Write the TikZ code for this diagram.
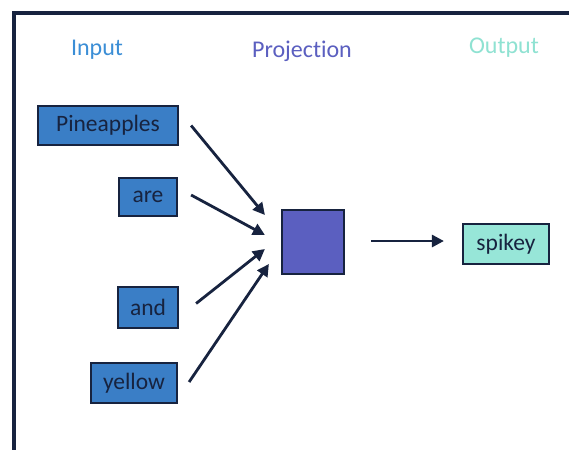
\documentclass[tikz,border=0pt]{standalone}
\usepackage{fontspec}
\setmainfont[Ligatures=NoCommon]{Carlito}
\usetikzlibrary{arrows.meta}
\definecolor{navy}{HTML}{17233F}
\definecolor{inblue}{HTML}{3A7EC6}
\definecolor{inlabel}{HTML}{3B8ED6}
\definecolor{projcol}{HTML}{5B5FC0}
\definecolor{outcol}{HTML}{97E6D8}
\definecolor{outlabel}{HTML}{8FE2D2}
\begin{document}
\begin{tikzpicture}[x=1pt,y=1pt,
  box/.style={draw=navy,line width=2.2pt,inner sep=0pt,text=navy,font=\fontsize{23.5}{28}\selectfont},
  inbox/.style={box,fill=inblue},
  title/.style={font=\fontsize{24}{29}\selectfont,inner sep=0pt},
  arr/.style={draw=navy,line width=2.8pt,-{Triangle[length=12pt,width=12pt]}}]
\useasboundingbox (0,0) rectangle (569,-450);
\fill[white] (0,0) rectangle (569,-450);
% frame
\draw[navy,line width=4pt] (12,-13) -- (569,-13);
\draw[navy,line width=4pt] (14,-11) -- (14,-450);
% titles
\node[title,text=inlabel] (tin) at (97,-50) {Input};
\node[title,text=projcol] (tproj) at (302,-51) {Projection};
\node[title,text=outlabel] (tout) at (504,-48) {Output};
% nodes
\node[inbox,minimum width=140pt,minimum height=39pt] (pine) at (108,-125.5) {Pineapples};
\node[inbox,minimum width=58pt,minimum height=38pt] (are) at (148,-197) {are};
\node[inbox,minimum width=60pt,minimum height=41pt] (and) at (148,-307.5) {and};
\node[inbox,minimum width=86pt,minimum height=40pt] (yellow) at (134,-383) {yellow};
\node[box,fill=projcol,minimum width=62pt,minimum height=64pt] (proj) at (313,-242) {};
\node[box,fill=outcol,minimum width=86pt,minimum height=40pt] (spikey) at (506,-244) {spikey};
% arrows
\draw[arr] ([xshift=12pt,yshift=0pt]pine.east) -- ([xshift=-16pt,yshift=27pt]proj.west);
\draw[arr] ([xshift=13pt,yshift=2pt]are.east) -- ([xshift=-16pt,yshift=7pt]proj.west);
\draw[arr] ([xshift=17pt,yshift=4pt]and.east) -- ([xshift=-16pt,yshift=-7pt]proj.west);
\draw[arr] ([xshift=11pt,yshift=1pt]yellow.east) -- ([xshift=-12pt,yshift=-22pt]proj.west);
\draw[arr] ([xshift=26pt,yshift=1pt]proj.east) -- ([xshift=-18pt,yshift=3pt]spikey.west);
\end{tikzpicture}
\end{document}
